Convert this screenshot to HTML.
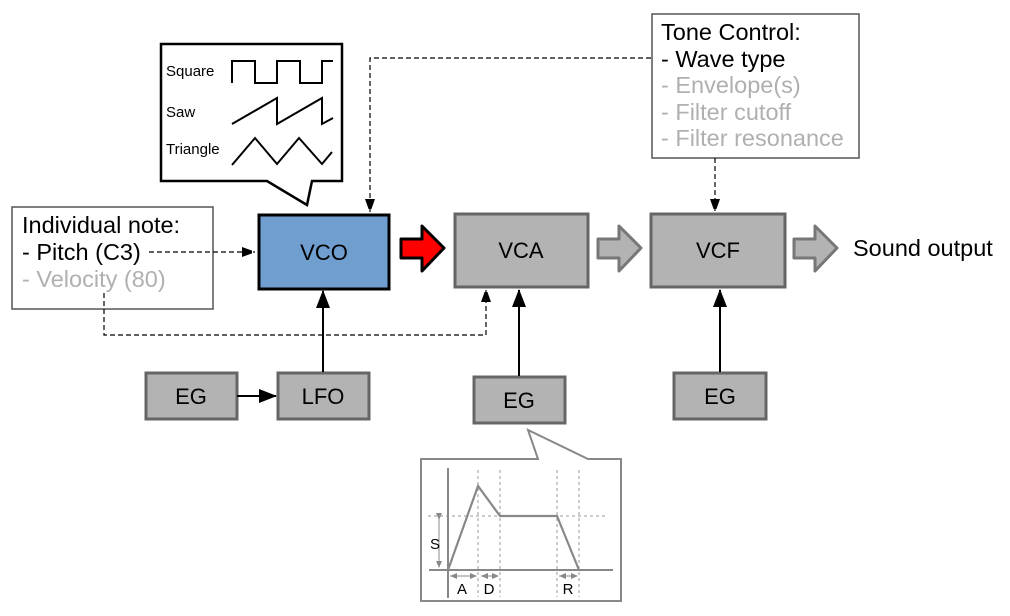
<!DOCTYPE html>
<html><head><meta charset="utf-8"><style>
html,body{margin:0;padding:0;background:#fff;}
svg{display:block;}
text{font-family:"Liberation Sans",sans-serif;}
</style></head><body>
<svg width="1010" height="616" viewBox="0 0 1010 616" xmlns="http://www.w3.org/2000/svg">
<defs>
<marker id="ah" markerWidth="10" markerHeight="14" refX="13" refY="5" orient="auto" markerUnits="userSpaceOnUse"><path d="M0,0 L14,5 L0,10 z" fill="#000"/></marker>
<marker id="ah2" markerWidth="18" markerHeight="14" refX="17" refY="7" orient="auto" markerUnits="userSpaceOnUse"><path d="M0,0 L18,7 L0,14 z" fill="#000"/></marker>
<marker id="sa" markerWidth="7" markerHeight="6" refX="6" refY="3" orient="auto" markerUnits="userSpaceOnUse"><path d="M0,0 L7,3 L0,6 z" fill="#888"/></marker>
</defs>

<path d="M161,44 H342 V181 H312 L307,205 L267,181 H161 Z" fill="#fff" stroke="#000" stroke-width="2.5"/>
<text x="166" y="76" font-size="15">Square</text>
<text x="166" y="117" font-size="15">Saw</text>
<text x="166" y="154" font-size="15">Triangle</text>
<path d="M232,83 V61 H255 V83 H277 V61 H300 V83 H322 V61 H333" fill="none" stroke="#000" stroke-width="2"/>
<path d="M232,124 L277,98 V124 L322,98 V124 L333,118" fill="none" stroke="#000" stroke-width="2"/>
<path d="M232,165 L255,138 L277,164 L299,138 L322,164 L332,152" fill="none" stroke="#000" stroke-width="2"/>

<rect x="652" y="14" width="207" height="144" fill="#fff" stroke="#555" stroke-width="1.5"/>
<text x="661" y="40" font-size="23.5">Tone Control:</text>
<text x="661" y="67" font-size="23.5">- Wave type</text>
<text x="661" y="93" font-size="23.5" fill="#b0b0b0">- Envelope(s)</text>
<text x="661" y="120" font-size="23.5" fill="#b0b0b0">- Filter cutoff</text>
<text x="661" y="146" font-size="23.5" fill="#b0b0b0">- Filter resonance</text>

<rect x="12" y="207" width="201" height="102" fill="#fff" stroke="#555" stroke-width="1.5"/>
<text x="22" y="233" font-size="23.5">Individual note:</text>
<text x="22" y="260" font-size="23.5">- Pitch (C3)</text>
<text x="22" y="287" font-size="23.5" fill="#b0b0b0">- Velocity (80)</text>

<g fill="none" stroke="#000" stroke-width="1.2" stroke-dasharray="5,3">
<path d="M651,58 H370 V212" marker-end="url(#ah)"/>
<path d="M715,158 V212" marker-end="url(#ah)"/>
<path d="M149,252 H255" marker-end="url(#ah)"/>
<path d="M104,293 V335 H486 V289" marker-end="url(#ah)"/>
</g>

<rect x="259" y="215" width="130" height="74" fill="#6f9ecf" stroke="#000" stroke-width="3"/>
<text x="324" y="260" font-size="22" text-anchor="middle">VCO</text>
<rect x="455" y="214" width="133" height="73" fill="#b3b3b3" stroke="#666" stroke-width="3"/>
<text x="521" y="258" font-size="22" text-anchor="middle">VCA</text>
<rect x="651" y="214" width="134" height="73" fill="#b3b3b3" stroke="#666" stroke-width="3"/>
<text x="718" y="258" font-size="22" text-anchor="middle">VCF</text>

<path d="M401,239 H422 V226 L444,248 L422,271 V258 H401 Z" fill="#f00" stroke="#000" stroke-width="3" stroke-linejoin="round"/>
<path d="M598,239 H619 V226 L641,248 L619,271 V258 H598 Z" fill="#b3b3b3" stroke="#777" stroke-width="3" stroke-linejoin="round"/>
<path d="M794,239 H815 V226 L837,248 L815,271 V258 H794 Z" fill="#b3b3b3" stroke="#777" stroke-width="3" stroke-linejoin="round"/>
<text x="853" y="256" font-size="23.5">Sound output</text>

<rect x="146" y="373" width="91" height="46" fill="#b3b3b3" stroke="#666" stroke-width="3"/>
<text x="191" y="404" font-size="22" text-anchor="middle">EG</text>
<rect x="278" y="373" width="91" height="46" fill="#b3b3b3" stroke="#666" stroke-width="3"/>
<text x="323" y="404" font-size="22" text-anchor="middle">LFO</text>
<rect x="474" y="377" width="91" height="46" fill="#b3b3b3" stroke="#666" stroke-width="3"/>
<text x="519" y="408" font-size="22" text-anchor="middle">EG</text>
<rect x="674" y="373" width="92" height="46" fill="#b3b3b3" stroke="#666" stroke-width="3"/>
<text x="720" y="404" font-size="22" text-anchor="middle">EG</text>

<g stroke="#000" stroke-width="2" fill="none">
<path d="M237,396 H276" marker-end="url(#ah2)"/>
<path d="M323,372 V291" marker-end="url(#ah2)"/>
<path d="M519,376 V290" marker-end="url(#ah2)"/>
<path d="M720,372 V290" marker-end="url(#ah2)"/>
</g>

<path d="M421,459 H538 L528,430 L588,459 H621 V601 H421 Z" fill="#fff" stroke="#888" stroke-width="2"/>
<g stroke="#999" stroke-width="1" stroke-dasharray="3,3" fill="none">
<path d="M478,470 V597"/><path d="M500,470 V597"/><path d="M557,470 V597"/><path d="M579,470 V597"/>
<path d="M428,516 H607"/>
</g>
<path d="M448,468 V598" stroke="#888" stroke-width="2"/>
<path d="M429,570 H613" stroke="#888" stroke-width="2"/>
<path d="M448,570 L478,486 L500,516 H557 L579,570" fill="none" stroke="#888" stroke-width="2.2"/>
<g stroke="#888" stroke-width="1" fill="none">
<path d="M439,519 V567" marker-end="url(#sa)" marker-start="url(#sa)"/>
<path d="M450,576 H476" marker-end="url(#sa)"/>
<path d="M476,576 H451" marker-end="url(#sa)"/>
<path d="M481,576 H498" marker-end="url(#sa)"/>
<path d="M498,576 H482" marker-end="url(#sa)"/>
<path d="M559,576 H577" marker-end="url(#sa)"/>
<path d="M577,576 H560" marker-end="url(#sa)"/>
</g>
<text x="430" y="549" font-size="15">S</text>
<text x="462" y="594" font-size="15" text-anchor="middle">A</text>
<text x="489" y="594" font-size="15" text-anchor="middle">D</text>
<text x="568" y="594" font-size="15" text-anchor="middle">R</text>
</svg>
</body></html>
